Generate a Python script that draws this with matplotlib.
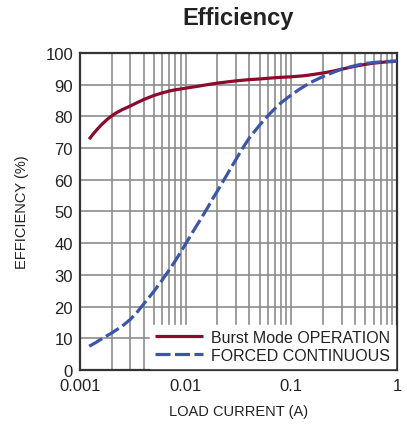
import matplotlib
matplotlib.use('Agg')
import numpy as np
from matplotlib import pyplot as plt
from matplotlib.ticker import FixedLocator, NullFormatter

# load current (A) and efficiency (%) for both operating modes
burst_current = [0.00122, 0.0013, 0.0014, 0.0015, 0.0016, 0.0018, 0.002, 0.0022, 0.0025, 0.003,
                 0.0035, 0.004, 0.005, 0.006, 0.007, 0.008, 0.01, 0.013, 0.016, 0.02,
                 0.025, 0.03, 0.04, 0.05, 0.07, 0.1, 0.13, 0.16, 0.2, 0.25,
                 0.3, 0.4, 0.5, 0.6, 0.8, 1.0]
burst_eff = [72.8, 74.0, 75.3, 76.4, 77.4, 79.0, 80.2, 81.1, 82.1, 83.3,
             84.4, 85.3, 86.6, 87.4, 88.0, 88.4, 88.9, 89.5, 90.0, 90.5,
             90.9, 91.2, 91.6, 91.8, 92.2, 92.5, 92.8, 93.2, 93.7, 94.3,
             94.9, 95.8, 96.4, 96.8, 97.2, 97.4]

forced_current = [0.00122, 0.0014, 0.0016, 0.002, 0.0025, 0.003, 0.0035, 0.004, 0.005, 0.006,
                  0.007, 0.008, 0.01, 0.012, 0.014, 0.016, 0.018, 0.02, 0.024, 0.03,
                  0.035, 0.04, 0.05, 0.06, 0.07, 0.08, 0.1, 0.12, 0.15, 0.2,
                  0.25, 0.3, 0.4, 0.5, 0.7, 1.0]
forced_eff = [7.5, 8.6, 9.8, 11.7, 13.8, 16.0, 18.4, 20.8, 24.8, 28.4,
              31.6, 34.5, 39.8, 44.2, 47.8, 51.0, 54.0, 56.5, 61.0, 66.5,
              70.2, 73.2, 77.2, 80.2, 82.5, 84.3, 86.8, 88.6, 90.6, 92.6,
              93.9, 94.9, 96.0, 96.7, 97.2, 97.5]

series_labels = ['Burst Mode OPERATION', 'FORCED CONTINUOUS']
x_ticks = [0.001, 0.01, 0.1, 1]
x_ticklabels = ['0.001', '0.01', '0.1', '1']
y_ticks = list(range(0, 101, 10))

plt.rcParams['font.family'] = ['Liberation Sans Narrow', 'Liberation Sans', 'DejaVu Sans']

fig = plt.figure(figsize=(4.07, 4.35), dpi=100)
ax = fig.add_axes([0.1966, 0.1471, 0.7788, 0.7288])

ax.plot(burst_current, burst_eff, color='#8c0a2c', lw=2.3, solid_capstyle='butt',
        solid_joinstyle='round', label=series_labels[0], zorder=3)
ax.plot(forced_current, forced_eff, color='#3b55aa', lw=2.3, ls=(0, (4.7, 1.4)),
        label=series_labels[1], zorder=4)

ax.set_xscale('log')
ax.set_xlim(0.001, 1)
ax.set_ylim(0, 100)
ax.xaxis.set_major_locator(FixedLocator(x_ticks))
ax.set_xticklabels(x_ticklabels)
minor = [m * d for d in (0.001, 0.01, 0.1) for m in range(2, 10)]
ax.xaxis.set_minor_locator(FixedLocator(minor))
ax.xaxis.set_minor_formatter(NullFormatter())
ax.set_yticks(y_ticks)

ax.grid(True, which='both', axis='x', color='#8c8c8c', lw=1.2)
ax.grid(True, which='major', axis='y', color='#8c8c8c', lw=1.2)
ax.set_axisbelow(True)
ax.tick_params(which='both', length=0, labelsize=12, colors='#222222')
ax.tick_params(axis='x', pad=6)
ax.tick_params(axis='y', pad=5)
for s in ax.spines.values():
    s.set_color('#333333')
    s.set_linewidth(1.6)

ax.set_xlabel('LOAD CURRENT (A)', fontsize=10.5, color='#222222', labelpad=8)
ax.set_ylabel('EFFICIENCY (%)', fontsize=10.5, color='#222222', labelpad=12)
fig.text(0.585, 0.957, 'Efficiency', ha='center', va='center', fontsize=17,
         fontweight='bold', color='#222222')

leg = ax.legend(loc='lower right', frameon=True, fancybox=False, framealpha=1,
                edgecolor='white', fontsize=11.5, handlelength=3.0, handletextpad=0.5,
                borderaxespad=0.15, borderpad=0.3, labelspacing=0.2)
for t in leg.get_texts():
    t.set_color('#222222')

fig.savefig('out.png', dpi=100)
